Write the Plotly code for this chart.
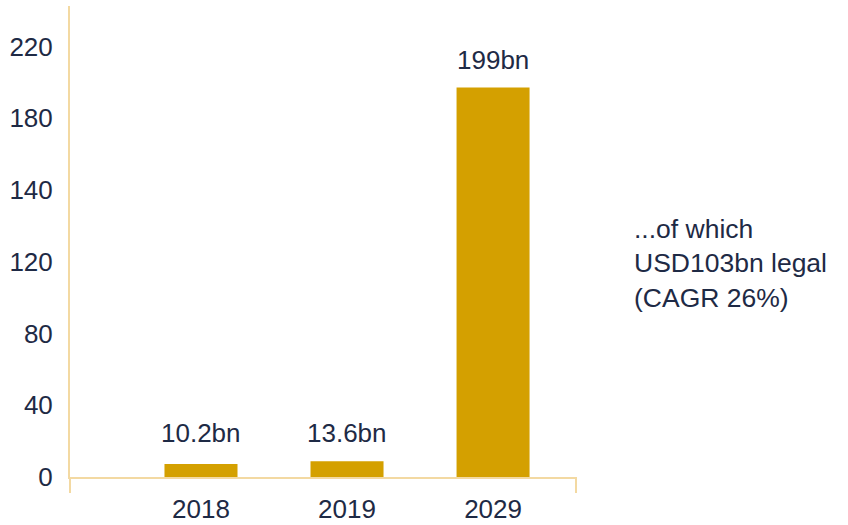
import numpy as np
import plotly.graph_objects as go

categories = ["2018", "2019", "2029"]
bar_values = [6.6, 8.0, 199.0]
bar_labels = ["10.2bn", "13.6bn", "199bn"]
y_tick_labels = ["0", "40", "80", "120", "140", "180", "220"]
side_note = "...of which<br>USD103bn legal<br>(CAGR 26%)"

TEXT = "#1E2A45"
BAR = "#D4A000"
AXIS = "#F3D9A2"
FONT = "Liberation Sans, Arial, Helvetica, sans-serif"

fig = go.Figure()
fig.add_trace(go.Bar(x=categories, y=bar_values, marker_color=BAR,
                     marker_line_width=0, width=0.5, hoverinfo="skip"))

for i, (v, t) in enumerate(zip(bar_values, bar_labels)):
    fig.add_annotation(x=i, y=max(v, 8.0), text=t, showarrow=False,
                       yanchor="middle", yshift=28,
                       font=dict(family=FONT, size=26, color=TEXT))

fig.add_annotation(xref="paper", yref="paper", x=1.1107, y=0.454,
                   text=side_note, showarrow=False, xanchor="left",
                   yanchor="middle", align="left",
                   font=dict(family=FONT, size=26.5, color=TEXT))

# axis end ticks extending below the x axis
fig.add_shape(type="line", xref="paper", yref="paper", x0=0, x1=0,
              y0=0, y1=-0.034, line=dict(color=AXIS, width=2))
fig.add_shape(type="line", xref="paper", yref="paper", x0=1, x1=1,
              y0=0, y1=-0.034, line=dict(color=AXIS, width=2))

tickpos = np.linspace(0, 220, len(y_tick_labels))

fig.update_layout(
    width=848, height=525,
    margin=dict(l=70, r=272, t=6, b=48, autoexpand=False),
    paper_bgcolor="white", plot_bgcolor="white",
    showlegend=False,
    bargap=0.5,
    xaxis=dict(type="category", range=[-0.897, 2.568], showline=True,
               linecolor=AXIS, linewidth=2, showgrid=False, zeroline=False,
               ticks="", ticklabelstandoff=8, automargin=False,
               tickfont=dict(family=FONT, size=26, color=TEXT)),
    yaxis=dict(range=[0, 240.7], showline=True, linecolor=AXIS, linewidth=2,
               showgrid=False, zeroline=False, ticks="",
               tickvals=list(tickpos), ticktext=y_tick_labels,
               ticklabelstandoff=10, automargin=False,
               tickfont=dict(family=FONT, size=26, color=TEXT)),
)

fig.write_html("out.html", config={"displayModeBar": False},
               post_script="document.body.style.margin='0';")
